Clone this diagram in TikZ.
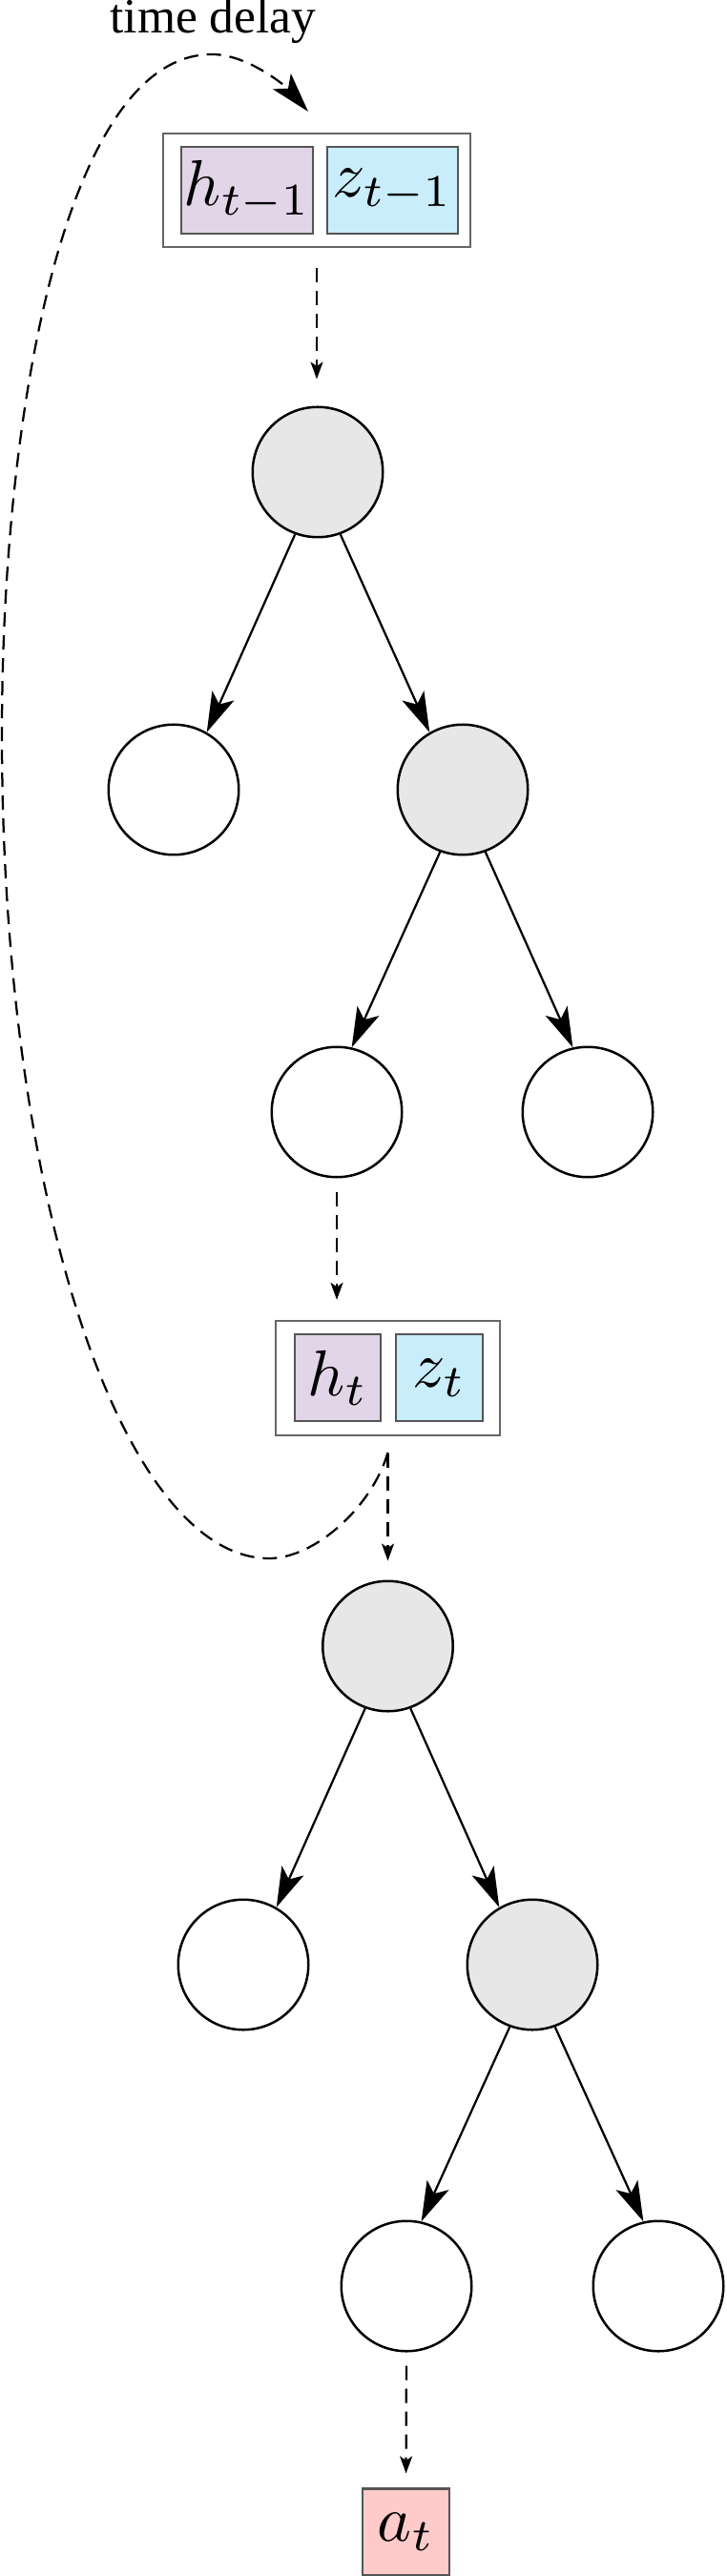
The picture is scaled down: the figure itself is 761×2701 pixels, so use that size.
\documentclass[tikz,border=0pt]{standalone}
\usepackage{graphicx}
\usepackage[no-math]{fontspec}
\setmainfont{Liberation Serif}
\usetikzlibrary{arrows.meta}
\definecolor{hfill}{HTML}{E1D5E7}
\definecolor{zfill}{HTML}{C9EDFA}
\definecolor{afill}{HTML}{FFCACA}
\definecolor{cgray}{HTML}{E8E7E8}
\definecolor{cbord}{HTML}{555555}
\definecolor{couter}{HTML}{666666}
\newcommand{\bigmath}[1]{\scalebox{1.36}{$#1$}}
\begin{document}
\begin{tikzpicture}[x=0.2pt,y=-0.2pt,
  tnode/.style={circle,draw,line width=0.5pt,minimum size=27.3pt,inner sep=0pt},
  gnode/.style={tnode,fill=cgray},
  wnode/.style={tnode,fill=white},
  vbox/.style={draw=cbord,line width=0.45pt,inner sep=0pt,font={\fontsize{10}{12}\selectfont}},
  obox/.style={draw=couter,line width=0.45pt,fill=white,inner sep=0pt},
  tarr/.style={-{Stealth[length=8.4pt,width=5pt,inset=2pt]},line width=0.45pt},
  darr/.style={-{Stealth[length=3.6pt,width=2.6pt,inset=0.9pt]},line width=0.45pt,dash pattern=on 3pt off 1.8pt},
  delay/.style={-{Stealth[length=8.4pt,width=5pt,inset=2pt]},line width=0.45pt,dash pattern=on 3pt off 1.8pt},
]
\useasboundingbox (0,0) rectangle (761,2701);

% label
\node[anchor=base,inner sep=0pt,font={\fontsize{10.3}{12}\selectfont}] (td) at (223.5,35) {time delay};

% top state box
\node[obox,minimum width=64.4pt,minimum height=23.8pt] (top) at (332,199.5) {};
\node[vbox,fill=hfill,minimum width=27.6pt,minimum height=18.2pt] (h1) at (259,199.5) {\bigmath{h_{t-1}}};
\node[vbox,fill=zfill,minimum width=27.4pt,minimum height=18.2pt] (z1) at (411.5,199.5) {\bigmath{z_{t-1}}};

% tree 1
\node[gnode] (r1) at (333,495) {};
\node[wnode] (a1) at (182,828) {};
\node[gnode] (b1) at (485,828) {};
\node[wnode] (c1) at (353,1166) {};
\node[wnode] (d1) at (616,1166) {};

% middle state box
\node[obox,minimum width=47pt,minimum height=24pt] (mid) at (406.5,1445) {};
\node[vbox,fill=hfill,minimum width=18pt,minimum height=18.2pt] (h2) at (354,1444.5) {\bigmath{h_t}};
\node[vbox,fill=zfill,minimum width=18.2pt,minimum height=18.2pt] (z2) at (460.5,1444.5) {\bigmath{z_t}};

% tree 2
\node[gnode] (r2) at (406.5,1726) {};
\node[wnode] (a2) at (255,2060) {};
\node[gnode] (b2) at (558,2060) {};
\node[wnode] (c2) at (426,2397) {};
\node[wnode] (d2) at (690,2397) {};

% action
\node[vbox,fill=afill,minimum width=18.2pt,minimum height=18.2pt] (at) at (425.5,2655) {\bigmath{a_t}};

% tree edges
\draw[tarr] (r1.-110) -- (a1.60);
\draw[tarr] (r1.-70) -- (b1.120);
\draw[tarr] (b1.-110) -- (c1.77);
\draw[tarr] (b1.-70) -- (d1.103);
\draw[tarr] (r2.-110) -- (a2.60);
\draw[tarr] (r2.-70) -- (b2.120);
\draw[tarr] (b2.-110) -- (c2.77);
\draw[tarr] (b2.-70) -- (d2.103);

% dashed flow arrows
\draw[darr,shorten <=4.2pt,shorten >=5.6pt] (top.south) -- (top.south |- r1.north);
\draw[darr,shorten <=2.8pt,shorten >=4.2pt] (c1.south) -- (c1.south |- mid.north);
\draw[darr,shorten <=3.6pt,shorten >=4pt] (mid.south) -- (r2.north);
\draw[darr,shorten <=2.8pt,shorten >=3pt] (c2.south) -- (at.north);

% time delay loop
\coordinate (cs) at (406.5,1523);
\coordinate (ce) at (323,117);
\draw[delay] (cs) .. controls (390,1580) and (330,1634) .. (282,1634)
  .. controls (132,1634) and (2,1270) .. (2,770)
  .. controls (2,420) and (72,57) .. (222,57)
  .. controls (262,57) and (303,94) .. (ce);
\end{tikzpicture}
\end{document}
